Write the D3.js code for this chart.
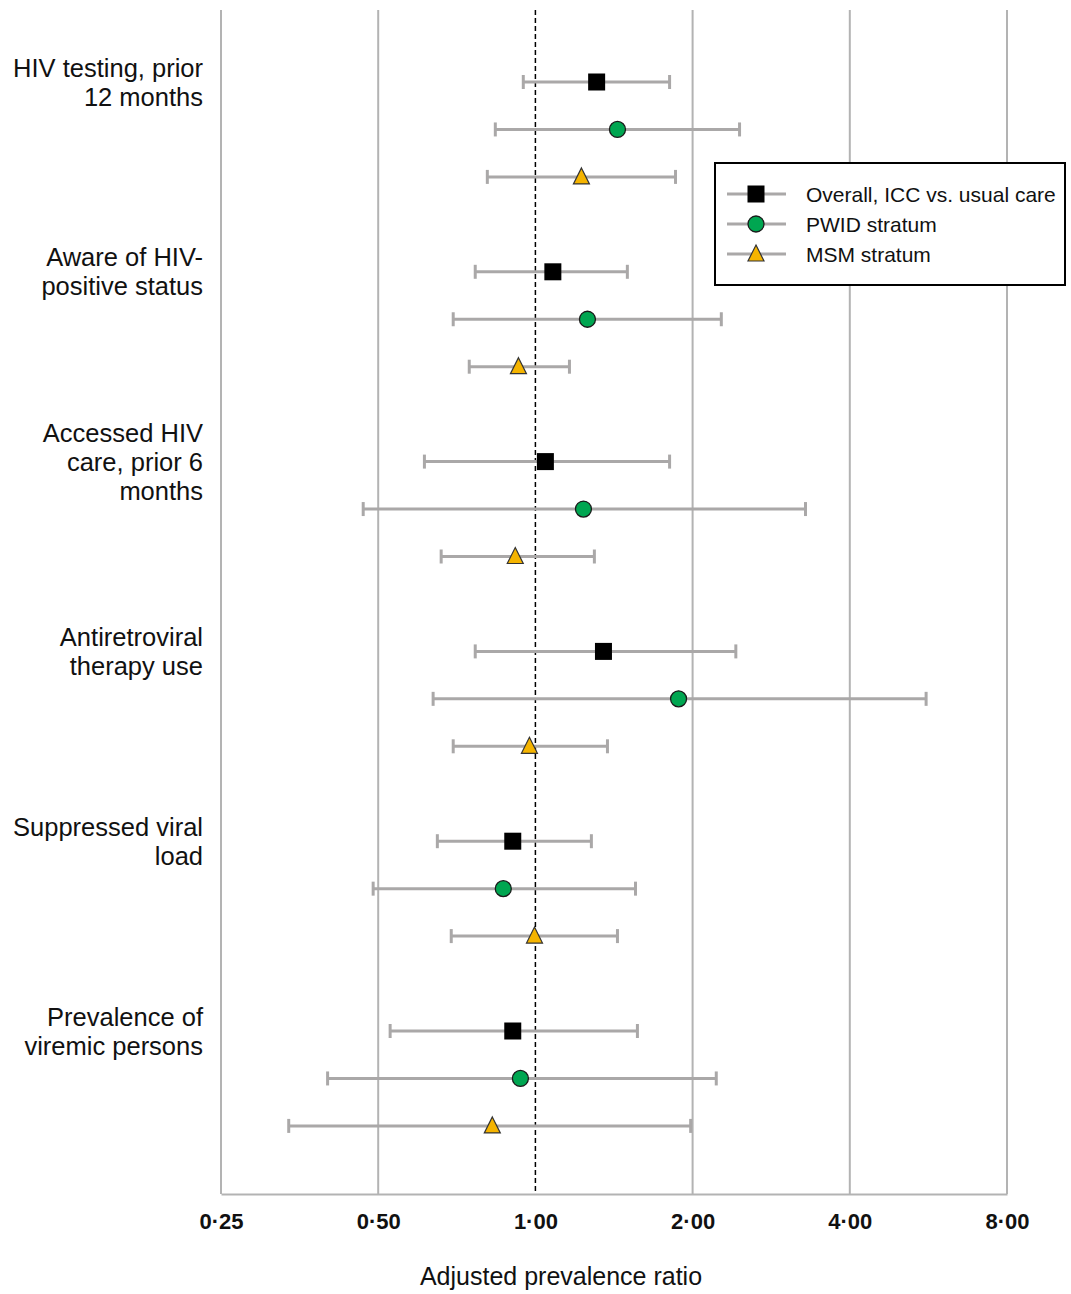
<!DOCTYPE html>
<html><head><meta charset="utf-8">
<script src="https://cdn.jsdelivr.net/npm/d3@7"></script>
<style>body{margin:0;background:#fff}svg{display:block}</style>
</head><body>
<svg id="c" width="1071" height="1294"></svg>
<script>
const outcomes = [
  ["HIV testing, prior", "12 months"],
  ["Aware of HIV-", "positive status"],
  ["Accessed HIV", "care, prior 6", "months"],
  ["Antiretroviral", "therapy use"],
  ["Suppressed viral", "load"],
  ["Prevalence of", "viremic persons"]
];
const seriesNames = ["Overall, ICC vs. usual care", "PWID stratum", "MSM stratum"];
const overallEst = [1.31, 1.08, 1.045, 1.35, 0.905, 0.905];
const overallLo  = [0.948, 0.767, 0.613, 0.767, 0.649, 0.527];
const overallHi  = [1.807, 1.50, 1.807, 2.42, 1.28, 1.568];
const pwidEst = [1.436, 1.258, 1.236, 1.88, 0.868, 0.936];
const pwidLo  = [0.838, 0.696, 0.468, 0.637, 0.489, 0.400];
const pwidHi  = [2.46, 2.27, 3.29, 5.60, 1.555, 2.22];
const msmEst = [1.225, 0.928, 0.915, 0.974, 0.996, 0.827];
const msmLo  = [0.809, 0.747, 0.660, 0.696, 0.690, 0.337];
const msmHi  = [1.855, 1.162, 1.297, 1.374, 1.436, 1.983];
const tickValues = [0.25, 0.5, 1, 2, 4, 8];
const tickLabels = ["0·25", "0·50", "1·00", "2·00", "4·00", "8·00"];
const xTitle = "Adjusted prevalence ratio";

(function () {
const svg = d3.select("#c");
const x = d3.scaleLog().base(2).domain([0.25, 8]).range([221, 1007]);
const slot = 47.45;
const y0 = 82;
const rowY = (g, s) => y0 + (g * 4 + s) * slot;
const yTop = 10, yBottom = 1194;
const grey = "#b3b3b3", barGrey = "#aaa8a8";

// gridlines
svg.append("g").selectAll("line").data(tickValues.filter(v => v !== 1)).join("line")
  .attr("x1", d => x(d)).attr("x2", d => x(d)).attr("y1", yTop).attr("y2", yBottom)
  .attr("stroke", grey).attr("stroke-width", 2);
// bottom axis
const ax = svg.append("g").attr("transform", `translate(0,${yBottom})`)
  .call(d3.axisBottom(x).tickValues(tickValues).tickFormat((d, i) => tickLabels[i]).tickSize(0).tickPadding(19));
ax.select(".domain").attr("stroke", grey).attr("stroke-width", 2);
ax.selectAll("text").attr("font-family", "'Liberation Sans Narrow', 'Arial Narrow', sans-serif")
  .attr("font-weight", "bold").attr("font-size", 22).attr("fill", "#111");
// reference line at 1
svg.append("line").attr("x1", x(1)).attr("x2", x(1)).attr("y1", yTop).attr("y2", yBottom)
  .attr("stroke", "#000").attr("stroke-width", 1.5).attr("stroke-dasharray", "5,3");

svg.append("text").attr("x", 561).attr("y", 1285).attr("text-anchor", "middle")
  .attr("font-family", "'Liberation Sans', Arial, sans-serif").attr("font-size", 25).attr("fill", "#111")
  .text(xTitle);

// outcome labels
outcomes.forEach((lines, g) => {
  const cy = rowY(g, 0);
  const lh = 29;
  const t = svg.append("text").attr("text-anchor", "end")
    .attr("font-family", "'Liberation Sans', Arial, sans-serif").attr("font-size", 25.5).attr("fill", "#111");
  lines.forEach((l, i) => {
    t.append("tspan").attr("x", 203).attr("y", cy - (lines.length - 1) * lh / 2 + i * lh + 9).text(l);
  });
});

const series = [
  {est: overallEst, lo: overallLo, hi: overallHi, shape: "square", fill: "#000"},
  {est: pwidEst, lo: pwidLo, hi: pwidHi, shape: "circle", fill: "#00a651"},
  {est: msmEst, lo: msmLo, hi: msmHi, shape: "triangle", fill: "#f5b400"}
];

function marker(sel, shape, fill) {
  if (shape === "square") {
    sel.append("rect").attr("x", -8.5).attr("y", -8.5).attr("width", 17).attr("height", 17).attr("fill", fill);
  } else if (shape === "circle") {
    sel.append("circle").attr("r", 8).attr("fill", fill).attr("stroke", "#1a1a1a").attr("stroke-width", 1.3);
  } else {
    sel.append("path").attr("d", "M0,-9L8,7L-8,7Z").attr("fill", fill).attr("stroke", "#333").attr("stroke-width", 1.2);
  }
}

series.forEach((s, si) => {
  const g = svg.append("g");
  s.est.forEach((v, gi) => {
    const yy = rowY(gi, si);
    const row = g.append("g");
    row.append("line").attr("x1", x(s.lo[gi])).attr("x2", x(s.hi[gi])).attr("y1", yy).attr("y2", yy)
      .attr("stroke", barGrey).attr("stroke-width", 3);
    [s.lo[gi], s.hi[gi]].forEach(c => {
      row.append("line").attr("x1", x(c)).attr("x2", x(c)).attr("y1", yy - 7).attr("y2", yy + 7)
        .attr("stroke", barGrey).attr("stroke-width", 3);
    });
    const m = row.append("g").attr("transform", `translate(${x(v)},${yy})`);
    marker(m, s.shape, s.fill);
  });
});

// legend
const lg = svg.append("g");
lg.append("rect").attr("x", 715).attr("y", 163).attr("width", 350).attr("height", 122)
  .attr("fill", "#fff").attr("stroke", "#000").attr("stroke-width", 2);
series.forEach((s, i) => {
  const yy = 194 + i * 30;
  lg.append("line").attr("x1", 727).attr("x2", 786).attr("y1", yy).attr("y2", yy)
    .attr("stroke", barGrey).attr("stroke-width", 3);
  const m = lg.append("g").attr("transform", `translate(756,${yy})`);
  marker(m, s.shape, s.fill);
  lg.append("text").attr("x", 806).attr("y", yy + 7.5).attr("font-family", "'Liberation Sans', Arial, sans-serif")
    .attr("font-size", 21).attr("fill", "#111").text(seriesNames[i]);
});
})();
</script>
</body></html>
